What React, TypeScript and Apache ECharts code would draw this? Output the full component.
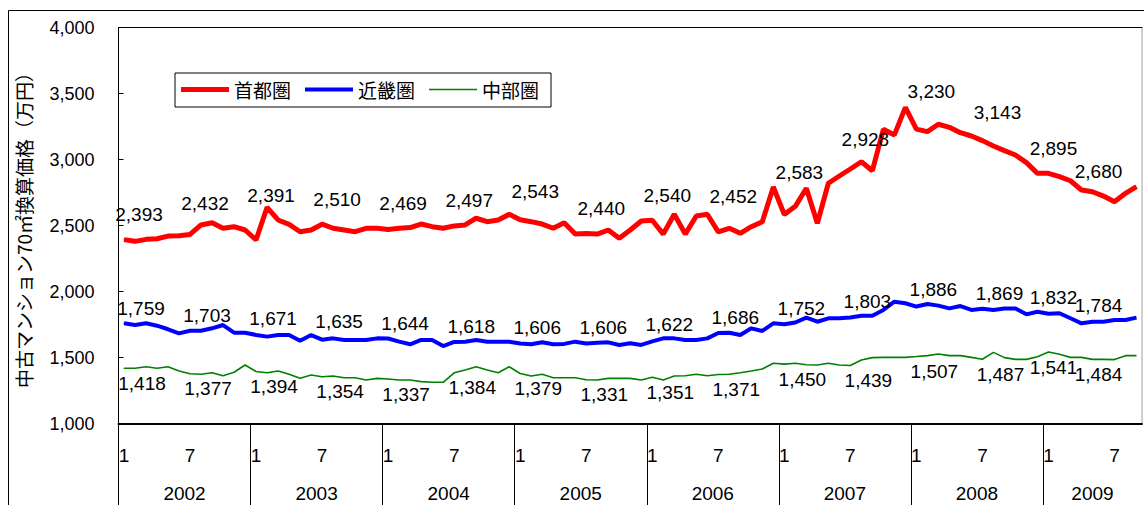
import React, { useEffect, useRef } from 'react';
import * as echarts from 'echarts';

// ---- data ----
const years = ['2002', '2003', '2004', '2005', '2006', '2007', '2008', '2009'];
const monthsInYear = [12, 12, 12, 12, 12, 12, 12, 9];
const monthTickLabels = ['1', '7'];

const seriesNames = ['首都圏', '近畿圏', '中部圏'];

const shutoken = [
  2393, 2380, 2395, 2400, 2420, 2423, 2432, 2504, 2521, 2479, 2491, 2466,
  2391, 2638, 2542, 2509, 2453, 2466, 2510, 2479, 2466, 2453, 2479, 2479,
  2469, 2479, 2484, 2511, 2491, 2479, 2497, 2504, 2555, 2529, 2542, 2585,
  2543, 2529, 2511, 2479, 2521, 2435, 2440, 2435, 2466, 2403, 2466, 2534,
  2540, 2435, 2585, 2435, 2572, 2585, 2452, 2479, 2441, 2491, 2529, 2792,
  2583, 2645, 2782, 2517, 2820, 2875, 2928, 2983, 2915, 3229, 3186, 3395,
  3230, 3211, 3267, 3244, 3203, 3178, 3143, 3102, 3067, 3034, 2976, 2895,
  2895, 2870, 2839, 2769, 2756, 2723, 2680, 2744, 2794,
];

const kinki = [
  1759, 1746, 1759, 1741, 1714, 1683, 1703, 1703, 1721, 1746, 1688, 1688,
  1671, 1658, 1670, 1670, 1627, 1670, 1635, 1645, 1633, 1633, 1633, 1645,
  1644, 1620, 1600, 1633, 1633, 1587, 1618, 1620, 1633, 1620, 1620, 1620,
  1606, 1600, 1615, 1600, 1603, 1620, 1606, 1612, 1615, 1595, 1608, 1595,
  1622, 1645, 1645, 1633, 1633, 1645, 1686, 1688, 1670, 1721, 1701, 1759,
  1752, 1765, 1802, 1771, 1797, 1797, 1803, 1817, 1817, 1860, 1923, 1911,
  1886, 1905, 1893, 1872, 1890, 1860, 1869, 1860, 1872, 1872, 1827, 1847,
  1832, 1835, 1797, 1759, 1771, 1771, 1784, 1784, 1802,
];

const chubu = [
  1418, 1418, 1430, 1418, 1430, 1398, 1377, 1373, 1385, 1362, 1388, 1443,
  1394, 1385, 1398, 1373, 1342, 1367, 1354, 1360, 1347, 1347, 1330, 1342,
  1337, 1330, 1330, 1317, 1312, 1312, 1384, 1405, 1430, 1405, 1385, 1430,
  1379, 1360, 1373, 1347, 1347, 1347, 1331, 1330, 1342, 1342, 1342, 1330,
  1351, 1330, 1360, 1362, 1373, 1362, 1371, 1373, 1385, 1398, 1413, 1456,
  1450, 1456, 1445, 1443, 1456, 1443, 1439, 1481, 1499, 1501, 1501, 1501,
  1507, 1514, 1527, 1514, 1514, 1501, 1487, 1539, 1499, 1486, 1486, 1506,
  1541, 1524, 1501, 1501, 1486, 1486, 1484, 1514, 1514,
];

const yMin = 1000;
const yMax = 4000;
const yStep = 500;

// ---- layout constants ----
const W = 1144;
const H = 505;
const GRID = { left: 118.5, right: 2, top: 27.5, bottom: 81.5 };
const PX_PER_UNIT = (H - GRID.top - GRID.bottom) / (yMax - yMin);

// ---- derived axis helpers ----
const categories: string[] = [];
years.forEach((y, yi) => {
  for (let m = 1; m <= monthsInYear[yi]; m++) categories.push(`${y}/${m}`);
});
const yearStarts: number[] = [];
const yearCenters: number[] = [];
{
  let acc = 0;
  monthsInYear.forEach((n) => {
    yearStarts.push(acc);
    yearCenters.push(acc + n / 2);
    acc += n;
  });
}
const total = categories.length;

const fmt = (v: number) => v.toLocaleString('en-US');
const NUM_FONT = '"Liberation Sans", Arial, sans-serif';
const JP_FONT = '"Noto Sans CJK JP", "Noto Sans", sans-serif';

const labelDx = (i: number, base: number) => {
  if (i >= total - 3) return -16;
  if (i >= total - 9) return 5;
  return base;
};

// lift "top" labels so they clear a taller neighbouring peak
const labelLift = (values: number[], i: number) => {
  const n = Math.max(values[i - 1] ?? -Infinity, values[i + 1] ?? -Infinity);
  return Math.max(0, (n - values[i]) * PX_PER_UNIT) * 0.6;
};

const buildData = (
  values: number[],
  color: string,
  position: 'top' | 'bottom',
  dx: number,
  dy: number
) =>
  values.map((v, i) => {
    const mi = i % 12;
    if (mi === 0 || mi === 6) {
      const lift = position === 'top' ? labelLift(values, i) : 0;
      return {
        value: v,
        symbol: 'circle',
        symbolSize: 1,
        itemStyle: { color },
        label: {
          show: true,
          position,
          distance: 5,
          offset: [labelDx(i, dx), dy - lift],
          color: '#000',
          fontSize: 19,
          fontFamily: NUM_FONT,
        },
      };
    }
    return v;
  });

const legendIcon = (thickness: number) => `path://M0 0H48V${thickness}H0Z`;

const App: React.FC = () => {
  const ref = useRef<HTMLDivElement>(null);

  useEffect(() => {
    if (!ref.current) return;
    const chart = echarts.init(ref.current, undefined, { renderer: 'svg' });

    const labelStyle = {
      show: false,
      color: '#000',
      fontSize: 19,
      fontFamily: NUM_FONT,
      formatter: (p: any) => fmt(p.value),
    };

    const option: any = {
      animation: false,
      backgroundColor: '#fff',
      textStyle: { fontFamily: NUM_FONT },
      graphic: [
        {
          type: 'rect',
          z: -10,
          silent: true,
          shape: { x: 8.5, y: 10.5, width: 1200, height: 600 },
          style: { fill: 'none', stroke: '#000', lineWidth: 1 },
        },
      ],
      grid: {
        ...GRID,
        show: true,
        borderColor: '#a0a0a0',
        borderWidth: 1,
        backgroundColor: 'transparent',
      },
      legend: {
        left: 175,
        top: 73,
        orient: 'horizontal',
        data: [
          { name: seriesNames[0], icon: legendIcon(5) },
          { name: seriesNames[1], icon: legendIcon(4) },
          { name: seriesNames[2], icon: legendIcon(1.6) },
        ],
        symbolKeepAspect: true,
        backgroundColor: '#fff',
        borderColor: '#000',
        borderWidth: 1,
        padding: [7, 12, 8, 6],
        itemGap: 14,
        itemWidth: 48,
        itemHeight: 19,
        textStyle: { fontSize: 19, color: '#000', fontFamily: JP_FONT },
      },
      xAxis: [
        {
          type: 'category',
          data: categories,
          boundaryGap: true,
          position: 'bottom',
          axisLine: { show: true, lineStyle: { color: '#000', width: 2 } },
          axisTick: { show: false },
          axisLabel: {
            interval: (i: number) => i % 12 === 0 || i % 12 === 6,
            formatter: (_v: string, i: number) =>
              i % 12 === 0 ? monthTickLabels[0] : monthTickLabels[1],
            color: '#000',
            fontSize: 19,
            fontFamily: NUM_FONT,
            margin: 22,
          },
          splitLine: { show: false },
        },
        {
          type: 'value',
          min: 0,
          max: total,
          position: 'bottom',
          axisLine: { show: false },
          splitLine: { show: false },
          axisTick: {
            show: true,
            inside: false,
            length: 82,
            customValues: yearStarts,
            lineStyle: { color: '#000', width: 1 },
          },
          axisLabel: {
            show: true,
            customValues: yearCenters,
            formatter: (v: number) => {
              const k = yearCenters.findIndex((c) => Math.abs(c - v) < 0.01);
              return k >= 0 ? years[k] : '';
            },
            color: '#000',
            fontSize: 19,
            fontFamily: NUM_FONT,
            margin: 60,
          },
        },
        {
          type: 'category',
          data: categories,
          position: 'top',
          axisLine: { show: true, lineStyle: { color: '#000', width: 1 } },
          axisTick: { show: false },
          axisLabel: { show: false },
          splitLine: { show: false },
        },
      ],
      yAxis: {
        type: 'value',
        min: yMin,
        max: yMax,
        interval: yStep,
        name: '中古マンション70㎡換算価格（万円）',
        nameLocation: 'middle',
        nameRotate: 90,
        nameGap: 86,
        nameTextStyle: { fontSize: 19, color: '#000', fontFamily: JP_FONT },
        axisLine: { show: true, lineStyle: { color: '#000', width: 1 } },
        axisTick: { show: true, inside: true, length: 5, lineStyle: { color: '#000' } },
        axisLabel: {
          formatter: (v: number) => fmt(v),
          color: '#000',
          fontSize: 18,
          fontFamily: NUM_FONT,
          margin: 24,
        },
        splitLine: { show: false },
      },
      series: [
        {
          name: seriesNames[0],
          type: 'line',
          xAxisIndex: 0,
          symbol: 'none',
          showSymbol: true,
          data: buildData(shutoken, '#ff0000', 'top', 15, -10),
          lineStyle: { color: '#ff0000', width: 5 },
          itemStyle: { color: '#ff0000' },
          label: labelStyle,
          z: 4,
        },
        {
          name: seriesNames[1],
          type: 'line',
          xAxisIndex: 0,
          symbol: 'none',
          showSymbol: true,
          data: buildData(kinki, '#0000ff', 'top', 17, 0),
          lineStyle: { color: '#0000ff', width: 4 },
          itemStyle: { color: '#0000ff' },
          label: labelStyle,
          z: 3,
        },
        {
          name: seriesNames[2],
          type: 'line',
          xAxisIndex: 0,
          symbol: 'none',
          showSymbol: true,
          data: buildData(chubu, '#008000', 'bottom', 18, 0),
          lineStyle: { color: '#008000', width: 1.6 },
          itemStyle: { color: '#008000' },
          label: labelStyle,
          z: 2,
        },
      ],
    };

    chart.setOption(option);
    return () => chart.dispose();
  }, []);

  return (
    <div
      ref={ref}
      style={{ position: 'absolute', left: 0, top: 0, width: W, height: H }}
    />
  );
};

export default App;
